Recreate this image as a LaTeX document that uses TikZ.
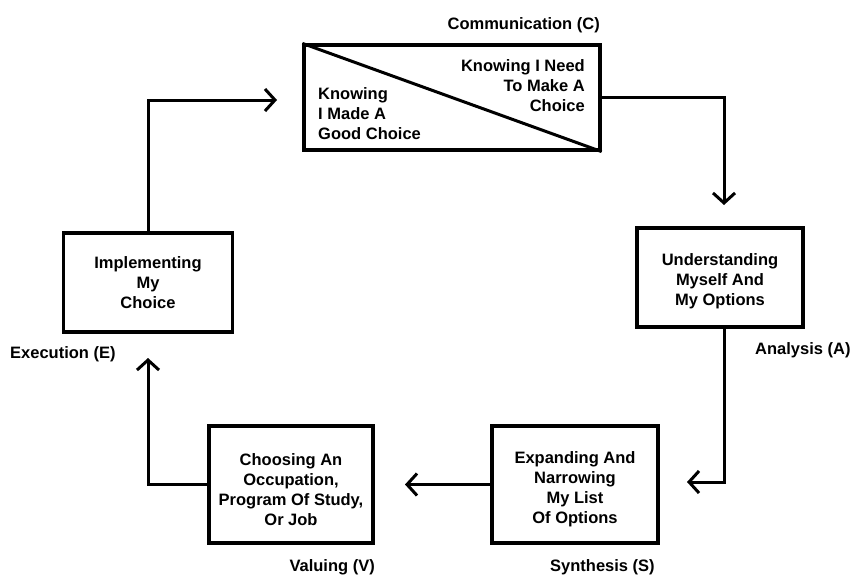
\documentclass[tikz,border=0pt]{standalone}
\usepackage{fontspec}
\setmainfont{Liberation Sans}
\usetikzlibrary{arrows.meta}
\begin{document}
\begin{tikzpicture}[x=1pt,y=-1pt,
  every node/.style={font=\bfseries\fontsize{16.5}{20}\selectfont},
  stagebox/.style={draw, line width=3.2pt, inner sep=0pt},
  boxtext/.style={inner sep=0pt, align=center},
  conn/.style={line width=3pt, -{Straight Barb[length=10pt,width=22pt,line width=3pt]}},
  lbl/.style={inner sep=0pt}]
\useasboundingbox (0,0) rectangle (854,576);
% boxes
\node[stagebox, minimum width=296pt, minimum height=105pt] (top) at (452,97.5) {};
\draw[line width=3pt] (top.north west) -- (top.south east);
\node[lbl, anchor=north east, align=right] (topR) at (585,59) {Knowing I Need\\To Make A\\Choice};
\node[lbl, anchor=south west, align=left] (topL) at (318,140) {Knowing\\I Made A\\Good Choice};
\node[stagebox, minimum width=166pt, minimum height=99pt] (U) at (720,277.5) {};
\node[boxtext] (Ut) at ([yshift=-4pt]U.center) {Understanding\\Myself And\\My Options};
\node[stagebox, minimum width=166pt, minimum height=117pt] (S) at (575,484.5) {};
\node[boxtext] (St) at ([yshift=-5pt]S.center) {Expanding And\\Narrowing\\My List\\Of Options};
\node[stagebox, minimum width=164pt, minimum height=117pt] (V) at (291,484.5) {};
\node[boxtext] (Vt) at ([yshift=-5pt]V.center) {Choosing An\\Occupation,\\Program Of Study,\\Or Job};
\node[stagebox, minimum width=169pt, minimum height=99pt] (E) at (148,282.5) {};
\node[boxtext] (Et) at (E.center) {Implementing\\My\\Choice};
% labels
\node[lbl, anchor=base east] (lC) at (600,29) {Communication (C)};
\node[lbl, anchor=base west] (lA) at (755,354) {Analysis (A)};
\node[lbl, anchor=base west] (lS) at (550,571) {Synthesis (S)};
\node[lbl, anchor=base east] (lV) at (375,571) {Valuing (V)};
\node[lbl, anchor=base west] (lE) at (10,358) {Execution (E)};
% arrow ends
\coordinate (a1) at (724,205);
\coordinate (a2) at (687,482);
\coordinate (a3) at (405,484.5);
\coordinate (a4) at (148,358);
\coordinate (a5) at (277,100);
% connectors
\draw[conn] (top.east) -| (a1);
\draw[conn] ([xshift=4pt]U.south) |- (a2);
\draw[conn] (S.west) -- (a3);
\draw[conn] (V.west) -| (a4);
\draw[conn] (E.north) |- (a5);
\end{tikzpicture}
\end{document}
